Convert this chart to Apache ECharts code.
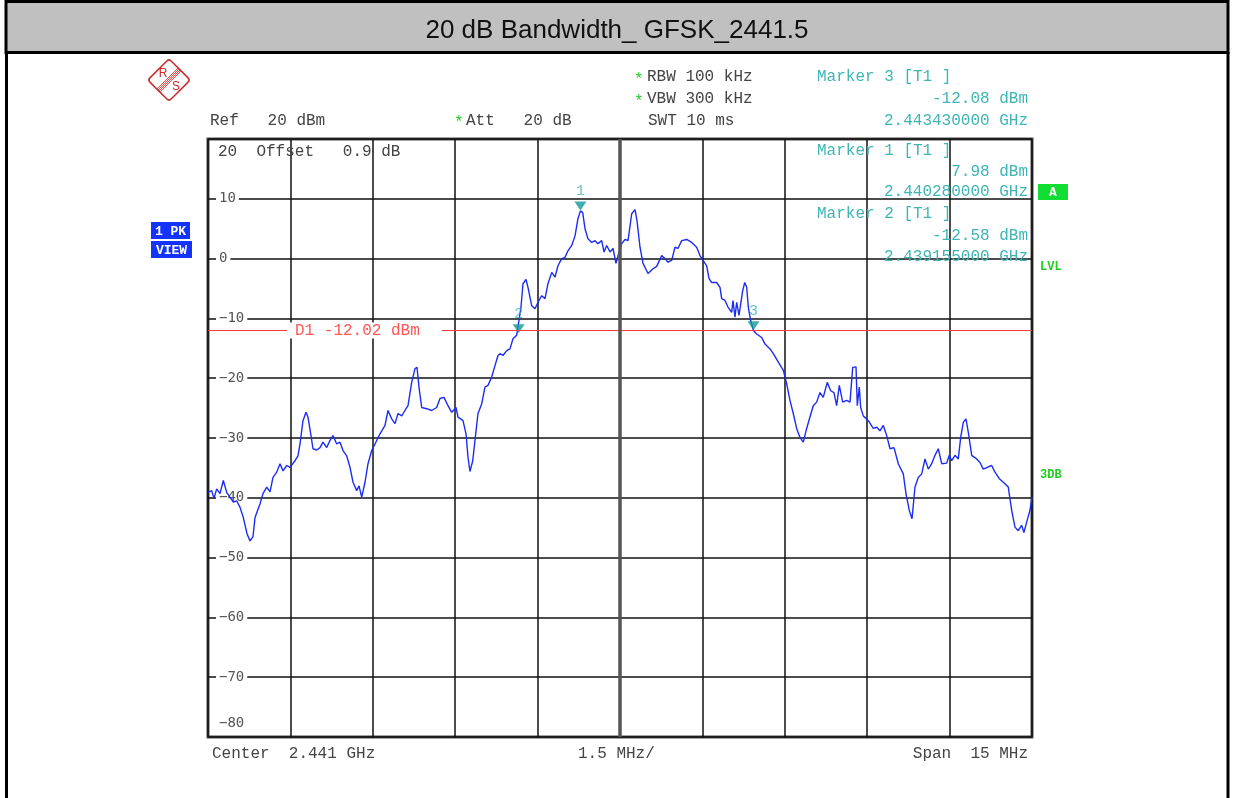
<!DOCTYPE html>
<html>
<head>
<meta charset="utf-8">
<script src="https://cdn.jsdelivr.net/npm/echarts@6/dist/echarts.min.js"></script>
<style>
  html, body { margin: 0; padding: 0; background: #fff; }
  #chart { width: 1234px; height: 798px; }
</style>
</head>
<body>
<div id="chart"></div>
<script>
// trace: frequency offset from center (MHz) and level (dBm)
var freqOffset = [
  -7.5, -7.433, -7.391, -7.342, -7.282, -7.221, -7.16, -7.1, -7.039, -6.978,
  -6.917, -6.857, -6.79, -6.735, -6.681, -6.644, -6.553, -6.499, -6.431, -6.371,
  -6.317, -6.249, -6.189, -6.135, -6.067, -6.007, -5.916, -5.862, -5.825, -5.771,
  -5.716, -5.68, -5.63, -5.589, -5.521, -5.461, -5.407, -5.339, -5.279, -5.225,
  -5.157, -5.097, -5.042, -4.975, -4.915, -4.86, -4.793, -4.751, -4.702, -4.642,
  -4.587, -4.52, -4.46, -4.369, -4.278, -4.223, -4.156, -4.096, -4.041, -3.974,
  -3.914, -3.859, -3.792, -3.732, -3.695, -3.659, -3.61, -3.519, -3.428, -3.337,
  -3.277, -3.204, -3.131, -3.064, -2.985, -2.949, -2.858, -2.803, -2.767, -2.731,
  -2.681, -2.64, -2.585, -2.518, -2.458, -2.403, -2.336, -2.276, -2.221, -2.184,
  -2.13, -2.063, -2.003, -1.948, -1.881, -1.845, -1.802, -1.766, -1.711, -1.675,
  -1.607, -1.547, -1.493, -1.425, -1.365, -1.311, -1.243, -1.183, -1.129, -1.061,
  -1.001, -0.947, -0.879, -0.819, -0.765, -0.72, -0.679, -0.637, -0.583, -0.515,
  -0.455, -0.401, -0.333, -0.291, -0.242, -0.182, -0.127, -0.073, -0.036, 0.031,
  0.091, 0.146, 0.182, 0.213, 0.273, 0.309, 0.364, 0.419, 0.51, 0.601,
  0.668, 0.759, 0.819, 0.874, 0.941, 1.001, 1.056, 1.123, 1.214, 1.305,
  1.396, 1.456, 1.511, 1.578, 1.62, 1.669, 1.76, 1.82, 1.851, 1.911,
  1.966, 2.033, 2.057, 2.093, 2.124, 2.166, 2.233, 2.27, 2.306, 2.336,
  2.379, 2.43, 2.488, 2.579, 2.64, 2.731, 2.791, 2.882, 2.973, 3.034,
  3.094, 3.154, 3.216, 3.276, 3.336, 3.398, 3.458, 3.518, 3.58, 3.64,
  3.7, 3.773, 3.835, 3.895, 3.944, 3.992, 4.054, 4.127, 4.187, 4.236,
  4.296, 4.32, 4.356, 4.381, 4.429, 4.52, 4.611, 4.673, 4.733, 4.793,
  4.855, 4.915, 4.988, 5.066, 5.157, 5.206, 5.266, 5.316, 5.37, 5.43,
  5.492, 5.552, 5.612, 5.674, 5.734, 5.794, 5.856, 5.947, 5.994, 6.038,
  6.098, 6.158, 6.202, 6.249, 6.298, 6.34, 6.402, 6.493, 6.553, 6.613,
  6.686, 6.766, 6.826, 6.905, 6.977, 7.068, 7.13, 7.19, 7.25, 7.311,
  7.353, 7.402, 7.462, 7.5
];
var levelDbm = [
  -39.1, -38.8, -40.1, -38.5, -39.3, -37.1, -39.1, -39.9, -40.7, -40.5,
  -41.6, -43.3, -46.0, -47.2, -46.5, -43.3, -41.0, -39.3, -38.2, -39.0,
  -36.6, -35.7, -34.3, -35.5, -34.6, -34.9, -33.8, -33.0, -31.0, -27.1,
  -25.7, -26.5, -29.3, -31.8, -32.0, -31.6, -30.7, -31.6, -30.4, -29.6,
  -31.0, -30.7, -32.1, -33.0, -34.9, -37.4, -38.8, -38.0, -39.9, -37.4,
  -34.3, -32.1, -31.0, -29.3, -27.9, -25.4, -26.8, -27.6, -25.9, -26.3,
  -25.4, -24.6, -20.7, -18.4, -18.2, -21.5, -24.9, -25.1, -25.4, -24.9,
  -23.4, -23.2, -24.6, -25.7, -24.9, -26.5, -27.1, -29.3, -33.2, -35.6,
  -33.8, -30.4, -25.9, -24.3, -21.5, -21.2, -19.8, -17.9, -16.2, -15.9,
  -16.2, -15.4, -15.1, -13.4, -12.8, -12.58, -8.1, -4.2, -3.5, -4.8,
  -7.9, -8.4, -7.3, -6.2, -6.7, -4.2, -2.3, -3.1, -1.2, 0.0,
  0.2, 1.3, 2.2, 3.8, 6.7, 7.98, 7.7, 5.0, 3.3, 2.7,
  3.0, 2.5, 3.0, 1.1, 2.2, 1.1, 1.7, -0.8, 0.5, 2.5,
  3.2, 3.0, 2.7, 7.5, 8.2, 6.4, 1.9, -0.8, -2.5, -1.7,
  -1.3, 0.5, 0.0, -0.6, -0.3, 1.9, 1.7, 3.0, 3.2, 2.7,
  1.9, 0.5, -0.3, -1.2, -3.3, -4.0, -4.0, -4.8, -6.7, -7.0,
  -8.1, -9.0, -7.0, -9.8, -7.3, -9.5, -5.4, -4.0, -4.8, -8.1,
  -10.4, -12.08, -12.6, -13.2, -14.3, -15.1, -15.9, -17.3, -18.7, -20.9,
  -23.7, -25.9, -28.4, -29.9, -30.7, -28.4, -26.5, -24.6, -24.0, -22.4,
  -23.2, -20.7, -22.1, -22.4, -24.6, -21.2, -24.0, -23.7, -24.0, -18.2,
  -18.1, -24.6, -21.5, -24.9, -26.3, -27.1, -28.4, -28.2, -28.8, -27.9,
  -29.6, -31.8, -31.6, -34.3, -36.0, -39.3, -42.1, -43.5, -38.2, -36.6,
  -36.0, -33.5, -35.2, -34.3, -32.9, -31.8, -34.3, -34.2, -32.9, -33.8,
  -32.9, -33.5, -29.9, -27.4, -26.8, -29.0, -32.9, -33.5, -34.1, -35.2,
  -34.9, -34.6, -35.7, -36.8, -37.4, -38.2, -42.1, -44.9, -45.5, -44.6,
  -45.8, -44.1, -42.1, -39.9
];

// markers
var markerNames = ['1', '2', '3'];
var markerOffset = [-0.72, -1.845, 2.43];
var markerLevel = [7.98, -12.58, -12.08];

var displayLine = -12.02;

var traceData = freqOffset.map(function (f, i) { return [f, levelDbm[i]]; });
var markerData = markerNames.map(function (n, i) {
  return { name: n, value: [markerOffset[i], markerLevel[i]] };
});

var mono = 'Liberation Mono';
var gray = '#444';
var teal = '#3fb5b5';
var green = '#22cc22';

function txt(x, y, s, color, opt) {
  opt = opt || {};
  return {
    type: 'text', x: x, y: y, z: 10,
    style: {
      text: s, fill: color,
      font: (opt.weight || 'normal') + ' ' + (opt.size || 16) + 'px "' + (opt.family || mono) + '"',
      textAlign: opt.align || 'left', textVerticalAlign: 'middle'
    }
  };
}

function box(x, y, w, h, color, label) {
  return [
    { type: 'rect', z: 10, shape: { x: x, y: y, width: w, height: h }, style: { fill: color } },
    txt(x + w / 2, y + h / 2 + 1, label, '#fff', { size: 13, weight: 'bold', align: 'center' })
  ];
}

// R&S logo
var logo = {
  type: 'group', x: 169, y: 80, z: 10,
  children: [
    { type: 'rect', rotation: Math.PI / 4, shape: { x: -15, y: -15, width: 30, height: 30, r: 3 },
      style: { fill: 'none', stroke: '#cc2a2a', lineWidth: 1.5 } }
  ]
};
[-2.1, -0.7, 0.7, 2.1].forEach(function (d) {
  logo.children.push({
    type: 'line',
    shape: { x1: 10.6 + d * 0.707, y1: -10.6 + d * 0.707, x2: -10.6 + d * 0.707, y2: 10.6 + d * 0.707 },
    style: { stroke: '#cc2a2a', lineWidth: 0.8 }
  });
});
logo.children.push(txt(-6, -6, 'R', '#cc2a2a', { size: 12, family: 'Liberation Sans', align: 'center' }));
logo.children.push(txt(7, 7, 'S', '#cc2a2a', { size: 12, family: 'Liberation Sans', align: 'center' }));

var graphics = [
  { type: 'rect', z: 5, shape: { x: 6, y: 1.5, width: 1222, height: 51 },
    style: { fill: '#c0c0c0', stroke: '#000', lineWidth: 3 } },
  { type: 'line', z: 5, shape: { x1: 6.5, y1: 52, x2: 6.5, y2: 798 }, style: { stroke: '#000', lineWidth: 3 } },
  { type: 'line', z: 5, shape: { x1: 1228, y1: 52, x2: 1228, y2: 798 }, style: { stroke: '#000', lineWidth: 3 } },
  logo,
  txt(210, 121, 'Ref   20 dBm', gray),
  txt(454, 123, '*', green),
  txt(466, 121, 'Att   20 dB', gray),
  txt(634, 80, '*', green),
  txt(647, 77, 'RBW 100 kHz', gray),
  txt(634, 102, '*', green),
  txt(647, 99, 'VBW 300 kHz', gray),
  txt(648, 121, 'SWT 10 ms', gray),
  txt(817, 77, 'Marker 3 [T1 ]', teal),
  txt(1028, 99, '-12.08 dBm', teal, { align: 'right' }),
  txt(1028, 121, '2.443430000 GHz', teal, { align: 'right' }),
  txt(817, 151, 'Marker 1 [T1 ]', teal),
  txt(1028, 172, '7.98 dBm', teal, { align: 'right' }),
  txt(1028, 192, '2.440280000 GHz', teal, { align: 'right' }),
  txt(817, 214, 'Marker 2 [T1 ]', teal),
  txt(1028, 236, '-12.58 dBm', teal, { align: 'right' }),
  txt(1028, 257, '2.439155000 GHz', teal, { align: 'right' }),
  txt(218, 152, '20  Offset   0.9 dB', gray),
  txt(219, 723, '\u221280', '#555', { size: 14, family: 'DejaVu Sans Mono' }),
  txt(212, 754, 'Center  2.441 GHz', gray),
  txt(578, 754, '1.5 MHz/', gray),
  txt(1028, 754, 'Span  15 MHz', gray, { align: 'right' }),
  txt(1040, 267, 'LVL', green, { size: 12, weight: 'bold' }),
  txt(1040, 475, '3DB', green, { size: 12, weight: 'bold' })
]
  .concat(box(151, 222, 39, 17, '#1533ff', '1 PK'))
  .concat(box(151, 241, 41, 17, '#1533ff', 'VIEW'))
  .concat(box(1038, 184, 30, 16, '#11dd33', 'A'));

var chart = echarts.init(document.getElementById('chart'));
chart.setOption({
  animation: false,
  backgroundColor: '#fff',
  title: {
    text: '20 dB Bandwidth_ GFSK_2441.5',
    left: 'center',
    top: 13,
    textStyle: { fontFamily: 'Liberation Sans', fontSize: 26, fontWeight: 'normal', color: '#111' },
    z: 20
  },
  graphic: graphics,
  grid: {
    left: 208, top: 139, width: 824, height: 598,
    show: true, borderColor: '#4a4a4a', borderWidth: 3, backgroundColor: 'transparent'
  },
  xAxis: {
    type: 'value', min: -7.5, max: 7.5, interval: 1.5,
    axisLine: { show: false }, axisTick: { show: false }, axisLabel: { show: false },
    splitLine: { show: true, lineStyle: { color: '#111', width: 1.5 } }
  },
  yAxis: {
    type: 'value', min: -80, max: 20, interval: 10,
    axisLine: { show: false }, axisTick: { show: false },
    axisLabel: {
      inside: true, margin: 8, color: '#555', fontFamily: 'DejaVu Sans Mono', fontSize: 14,
      backgroundColor: '#fff', padding: [0, 3],
      showMinLabel: false, showMaxLabel: false,
      formatter: function (v) { return String(v).replace('-', '\u2212'); }
    },
    splitLine: { show: true, lineStyle: { color: '#111', width: 1.5 } }
  },
  series: [
    {
      type: 'line',
      data: traceData,
      showSymbol: false,
      symbol: 'none',
      lineStyle: { color: '#1c2cf5', width: 1.4 },
      z: 3,
      markLine: {
        silent: true,
        symbol: ['none', 'none'],
        data: [
          {
            yAxis: displayLine,
            lineStyle: { color: '#ff3a3a', width: 1.2, type: 'solid' },
            label: {
              show: true, position: 'insideStart', distance: [79, 0],
              formatter: 'D1 -12.02 dBm', color: '#ff5555',
              fontFamily: mono, fontSize: 16, backgroundColor: '#fff', padding: [0, 22, 0, 8]
            }
          },
          {
            xAxis: 0,
            lineStyle: { color: '#555', width: 3.5, type: 'solid' },
            label: { show: false }
          }
        ]
      }
    },
    {
      type: 'scatter',
      data: markerData,
      symbol: 'triangle',
      symbolRotate: 180,
      symbolSize: [12, 9],
      symbolOffset: [0, -5],
      itemStyle: { color: '#139898' },
      z: 4,
      label: {
        show: true, position: 'top', distance: 3, formatter: '{b}',
        color: teal, fontFamily: mono, fontSize: 15
      }
    }
  ]
});
</script>
</body>
</html>
